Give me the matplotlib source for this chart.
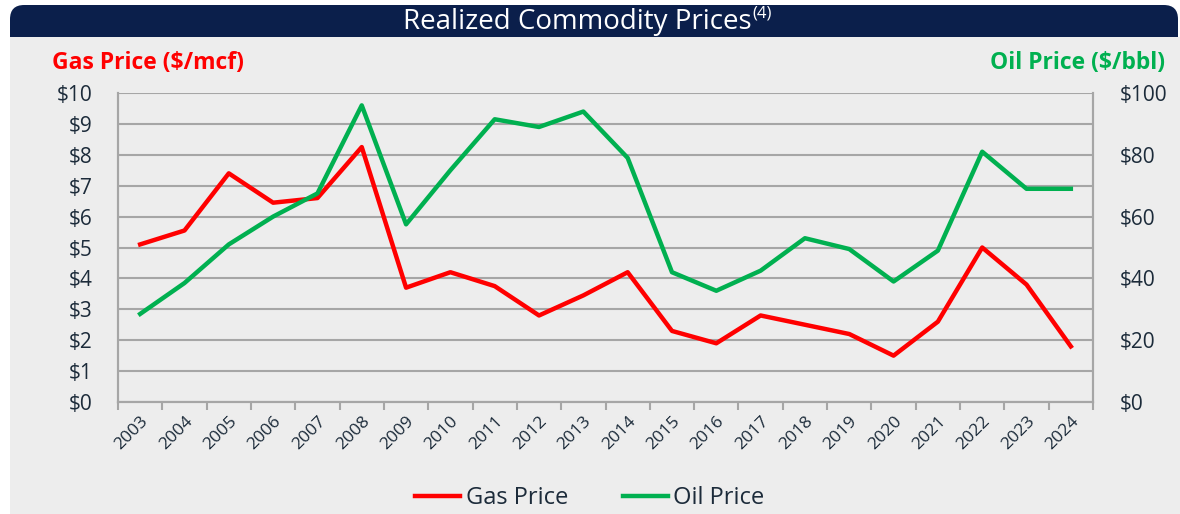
import numpy as np
import matplotlib.pyplot as plt
from matplotlib.patches import Rectangle, FancyBboxPatch
from matplotlib.ticker import FuncFormatter

# data
years = [str(y) for y in range(2003, 2025)]
gas = [5.1, 5.55, 7.4, 6.45, 6.6, 8.25, 3.7, 4.2, 3.75, 2.8, 3.45,
       4.2, 2.3, 1.9, 2.8, 2.5, 2.2, 1.5, 2.6, 5.0, 3.8, 1.8]
oil = [28.5, 38.5, 51, 60, 67.5, 96, 57.5, 75, 91.5, 89, 94,
       79, 42, 36, 42.5, 53, 49.5, 39, 49, 81, 69, 69]

navy = '#0b1f4b'
txt = '#1c2b3a'
bg = '#ededed'
grid = '#a6a6a6'

plt.rcParams['font.family'] = ['Open Sans', 'DejaVu Sans']

fig = plt.figure(figsize=(11.8, 5.14), dpi=100)
fig.patch.set_facecolor('white')

# gray panel and title banner
fig.patches.append(Rectangle((10/1180, 0), 1170/1180, 477/514,
                             transform=fig.transFigure, facecolor=bg,
                             edgecolor='none', zorder=-10))
fig.patches.append(FancyBboxPatch((10/1180, 477/514), 1168/1180, 32/514,
                                  boxstyle='round,pad=0,rounding_size=0.012',
                                  transform=fig.transFigure, facecolor=navy,
                                  edgecolor='none', zorder=-5,
                                  mutation_aspect=2.3))
fig.patches.append(Rectangle((10/1180, 477/514), 1168/1180, 14/514,
                             transform=fig.transFigure, facecolor=navy,
                             edgecolor='none', zorder=-5))
title = fig.text(403/1180, 1 - 22/514, 'Realized Commodity Prices', color='white',
                 fontsize=20, ha='left', va='center')
r = fig.canvas.get_renderer()
tx1 = title.get_window_extent(r).x1
fig.text(tx1 / 1180 + 1/1180, 1 - 14/514, '(4)', color='white',
         fontsize=12, ha='left', va='center')

ax = fig.add_axes([118/1180, 1 - 402/514, 975/1180, 309/514])
ax.set_facecolor(bg)
x = np.arange(len(years))
ax.plot(x, gas, color='#ff0000', lw=3.2, label='Gas Price', zorder=3)
ax2 = ax.twinx()
ax2.plot(x, oil, color='#00b050', lw=3.2, label='Oil Price', zorder=3)

ax.set_xlim(-0.5, len(years) - 0.5)
ax.set_ylim(0, 10)
ax2.set_ylim(0, 100)
ax.set_yticks(range(0, 11))
ax2.set_yticks(range(0, 101, 20))
ax.yaxis.set_major_formatter(FuncFormatter(lambda v, p: f'${v:.0f}'))
ax2.yaxis.set_major_formatter(FuncFormatter(lambda v, p: f'${v:.0f}'))
ax.grid(axis='y', color=grid, lw=1.5)
ax.set_axisbelow(True)

ax.set_xticks(np.arange(-0.5, len(years), 1), minor=False)
ax.set_xticklabels([])
ax.set_xticks(x, minor=True)
ax.set_xticklabels(years, minor=True, rotation=45, ha='right',
                   rotation_mode='anchor', fontsize=12.5, color=txt)
ax.tick_params(axis='x', which='major', length=6, color=grid, width=1.5)
ax.tick_params(axis='x', which='minor', length=0, pad=8)
ax.tick_params(axis='y', length=0, labelsize=15, labelcolor=txt, pad=18)
ax2.tick_params(axis='y', length=0, labelsize=15, labelcolor=txt, pad=19)

for a in (ax, ax2):
    a.spines['top'].set_visible(False)
    for s in ('left', 'right', 'bottom'):
        a.spines[s].set_color(grid)
        a.spines[s].set_linewidth(1.5)

fig.text(52/1180, 1 - 63/514, 'Gas Price ($/mcf)', color='#ff0000',
         fontsize=16.5, fontweight='bold', ha='left', va='center')
fig.text(1165/1180, 1 - 63/514, 'Oil Price ($/bbl)', color='#00b050',
         fontsize=16.5, fontweight='bold', ha='right', va='center')

h1, l1 = ax.get_legend_handles_labels()
h2, l2 = ax2.get_legend_handles_labels()
fig.legend(h1 + h2, l1 + l2, loc='center', bbox_to_anchor=(0.5, 1 - 498/514),
           ncol=2, frameon=False, fontsize=17, handlelength=1.9,
           columnspacing=2.3, handletextpad=0.25, labelcolor=txt)

fig.savefig('out.png', dpi=100, facecolor=fig.get_facecolor())
